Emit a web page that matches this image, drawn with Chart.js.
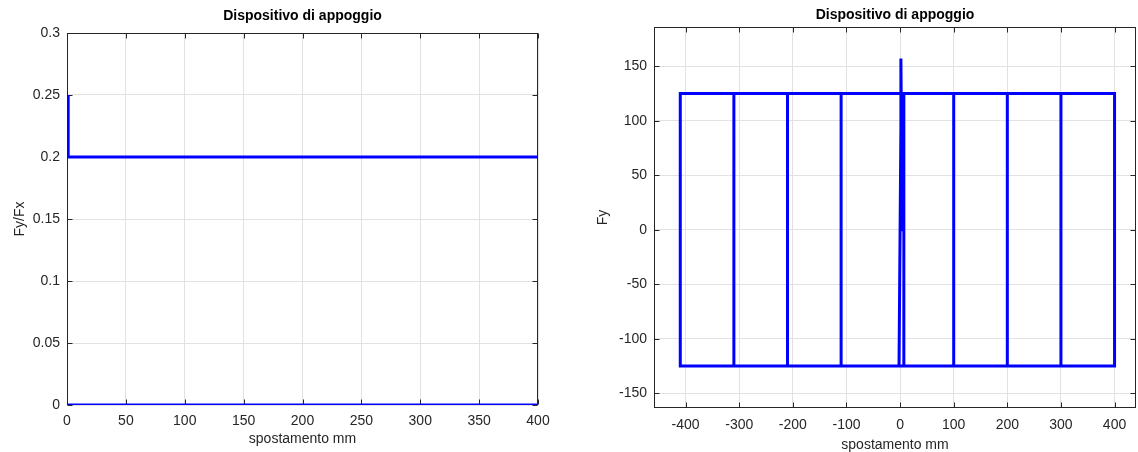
<!DOCTYPE html>
<html>
<head>
<meta charset="utf-8">
<script src="https://cdn.jsdelivr.net/npm/chart.js@4.4.1/dist/chart.umd.min.js"></script>
<style>
  body { margin: 0; background: #fff; width: 1138px; height: 452px; overflow: hidden; }
  canvas { position: absolute; top: 0; }
  #left { left: 0; }
  #right { left: 569px; }
</style>
</head>
<body>
<canvas id="left" width="569" height="452"></canvas>
<canvas id="right" width="569" height="452"></canvas>
<script>
const titleText = 'Dispositivo di appoggio';
const xLabel = 'spostamento mm';

// left plot: Fy/Fx against displacement
const ratioX = [1, 1, 400];
const ratioY = [0.25, 0.2, 0.2];
const zeroX = [0, 400];
const zeroY = [0, 0];
const leftXTicks = [0, 50, 100, 150, 200, 250, 300, 350, 400];
const leftYTicks = [0, 0.05, 0.1, 0.15, 0.2, 0.25, 0.3];

// right plot: Fy against displacement (cycles)
const loopX = [0, 1.5, 2, 7, 7, -2, 2, 100, 100, -110, -110, 200, 200, -210, -210, 300, 300, -310, -310, 400, 400, -410, -410, 0];
const loopY = [0, 157, 125, 125, -125, -125, 125, 125, -125, -125, 125, 125, -125, -125, 125, 125, -125, -125, 125, 125, -125, -125, 125, 125];
const rightXTicks = [-400, -300, -200, -100, 0, 100, 200, 300, 400];
const rightYTicks = [-150, -100, -50, 0, 50, 100, 150];

const FONT = '"Liberation Sans", Arial, Helvetica, sans-serif';
const AXIS_COLOR = '#262626';
const GRID_COLOR = '#e2e2e2';
const BLUE = '#0000ff';

Chart.defaults.font.family = FONT;
Chart.defaults.font.size = 14;
Chart.defaults.color = AXIS_COLOR;

const toPoints = (xs, ys) => xs.map((v, i) => ({ x: v, y: ys[i] }));

// box with inward ticks on all four sides, plus the title over the plot area
const boxPlugin = {
  id: 'box',
  beforeDatasetsDraw(chart, args, opts) {
    const { ctx, chartArea: a, scales: { x, y } } = chart;
    ctx.save();
    ctx.strokeStyle = AXIS_COLOR;
    ctx.lineWidth = 1;
    const L = Math.round(a.left) + 0.5, R = Math.round(a.right) - 0.5;
    const T = Math.round(a.top) + 0.5, B = Math.round(a.bottom) - 0.5;
    ctx.strokeRect(L, T, R - L, B - T);
    ctx.beginPath();
    x.ticks.forEach(t => {
      const px = Math.round(x.getPixelForValue(t.value)) + 0.5;
      ctx.moveTo(px, B); ctx.lineTo(px, B - 5);
      ctx.moveTo(px, T); ctx.lineTo(px, T + 5);
    });
    y.ticks.forEach(t => {
      const py = Math.round(y.getPixelForValue(t.value)) + 0.5;
      ctx.moveTo(L, py); ctx.lineTo(L + 5, py);
      ctx.moveTo(R, py); ctx.lineTo(R - 5, py);
    });
    ctx.stroke();
    ctx.fillStyle = '#000';
    ctx.font = 'bold 14px ' + FONT;
    ctx.textAlign = 'center';
    ctx.textBaseline = 'middle';
    ctx.fillText(titleText, (a.left + a.right) / 2, opts.titleY);
    ctx.restore();
  }
};

const makeScales = (cfg) => ({
  x: {
    type: 'linear',
    min: cfg.xMin, max: cfg.xMax,
    afterBuildTicks: s => { s.ticks = cfg.xTicks.map(v => ({ value: v })); },
    afterFit: s => { s.height = cfg.xHeight; },
    ticks: { padding: cfg.xPad, maxRotation: 0, autoSkip: false, callback: v => String(v) },
    grid: { color: GRID_COLOR, drawTicks: false },
    border: { display: false },
    title: { display: true, text: xLabel, padding: { top: 0, bottom: cfg.xTitlePad } }
  },
  y: {
    type: 'linear',
    min: cfg.yMin, max: cfg.yMax,
    afterBuildTicks: s => { s.ticks = cfg.yTicks.map(v => ({ value: v })); },
    afterFit: s => { s.width = cfg.yWidth; },
    ticks: { padding: 7, autoSkip: false, callback: v => String(v) },
    grid: { color: GRID_COLOR, drawTicks: false },
    border: { display: false },
    title: { display: true, text: cfg.yLabel, padding: { top: cfg.yTitlePad, bottom: 0 } }
  }
});

const lineStyle = { showLine: true, borderColor: BLUE, backgroundColor: BLUE, borderWidth: 3, pointRadius: 0, tension: 0 };

new Chart(document.getElementById('left'), {
  type: 'scatter',
  data: {
    datasets: [
      Object.assign({ data: toPoints(ratioX, ratioY) }, lineStyle),
      Object.assign({ data: toPoints(zeroX, zeroY) }, lineStyle)
    ]
  },
  options: {
    responsive: false,
    animation: false,
    devicePixelRatio: 1,
    layout: { padding: { top: 33, right: 31, bottom: 0, left: 0 } },
    plugins: { legend: { display: false }, tooltip: { enabled: false }, box: { titleY: 16 } },
    scales: makeScales({
      xMin: 0, xMax: 400, xTicks: leftXTicks, xHeight: 47, xPad: 8, xTitlePad: 4,
      yMin: 0, yMax: 0.3, yTicks: leftYTicks, yWidth: 67, yLabel: 'Fy/Fx', yTitlePad: 12
    })
  },
  plugins: [boxPlugin]
});

new Chart(document.getElementById('right'), {
  type: 'scatter',
  data: {
    datasets: [Object.assign({ data: toPoints(loopX, loopY) }, lineStyle)]
  },
  options: {
    responsive: false,
    animation: false,
    devicePixelRatio: 1,
    layout: { padding: { top: 27, right: 2, bottom: 0, left: 0 } },
    plugins: { legend: { display: false }, tooltip: { enabled: false }, box: { titleY: 15 } },
    scales: makeScales({
      xMin: -459, xMax: 440, xTicks: rightXTicks, xHeight: 44, xPad: 9, xTitlePad: -2,
      yMin: -163.5, yMax: 186, yTicks: rightYTicks, yWidth: 85, yLabel: 'Fy', yTitlePad: 26
    })
  },
  plugins: [boxPlugin]
});
</script>
</body>
</html>
